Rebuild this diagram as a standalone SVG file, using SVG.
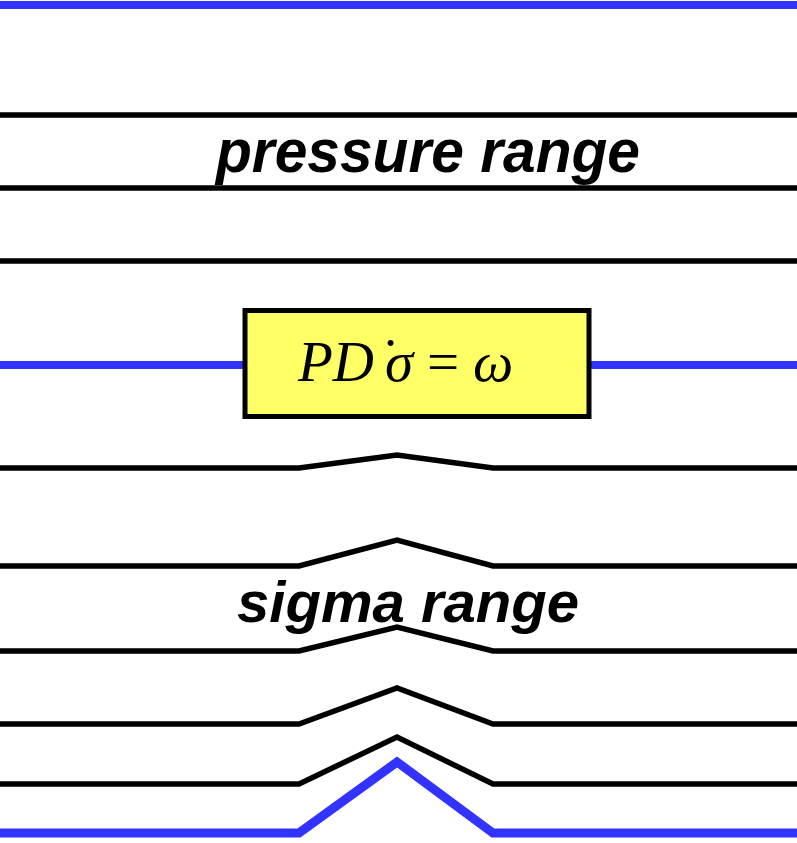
<svg xmlns="http://www.w3.org/2000/svg" width="797" height="843" viewBox="0 0 797 843">
<style>
.k{fill:none;stroke:#000;stroke-width:5.5}
.b{fill:none;stroke:#3333FF;stroke-width:8}
.lbl{font-family:"Liberation Sans",Arial,sans-serif;font-weight:bold;font-style:italic;fill:#000;text-anchor:middle}
.m{font-family:"Liberation Serif","Times New Roman",serif;font-size:57px;fill:#000}
</style>
<rect width="797" height="843" fill="#fff"/>
<g id="connectors">
<line class="b" x1="0" y1="5" x2="797" y2="5"/>
<line class="k" x1="0" y1="115" x2="797" y2="115"/>
<line class="k" x1="0" y1="188" x2="797" y2="188"/>
<line class="k" x1="0" y1="261" x2="797" y2="261"/>
<line class="b" x1="0" y1="365" x2="245" y2="365"/>
<line class="b" x1="589" y1="365" x2="797" y2="365"/>
<polyline class="k" points="0,468 299,468 397,455 493,468 797,468"/>
<polyline class="k" points="0,566 299,566 397,540 493,566 797,566"/>
<polyline class="k" points="0,651 299,651 397,627 493,651 797,651"/>
<polyline class="k" points="0,724 299,724 397,688 493,724 797,724"/>
<polyline class="k" points="0,784 299,784 397,737 493,784 797,784"/>
<polyline class="b" points="0,833 299,833 397,762 493,833 797,833" style="stroke-width:9"/>
</g>
<g id="pressure-label">
<text class="lbl" x="428" y="172" font-size="61" textLength="424" lengthAdjust="spacingAndGlyphs">pressure range</text>
</g>
<g id="sigma-label">
<text class="lbl" x="408" y="622" font-size="58" textLength="342" lengthAdjust="spacingAndGlyphs">sigma range</text>
</g>
<g id="equation-box">
<rect x="245" y="310.5" width="344" height="106" fill="#FFFF66" stroke="#000" stroke-width="5"/>
<text class="m"><tspan x="298" y="381" font-style="italic">PD</tspan><tspan x="385" y="381" font-style="italic">σ</tspan><tspan x="427" y="381">=</tspan><tspan x="473" y="381" font-style="italic">ω</tspan><tspan x="381" y="378">˙</tspan></text>
</g>
</svg>
